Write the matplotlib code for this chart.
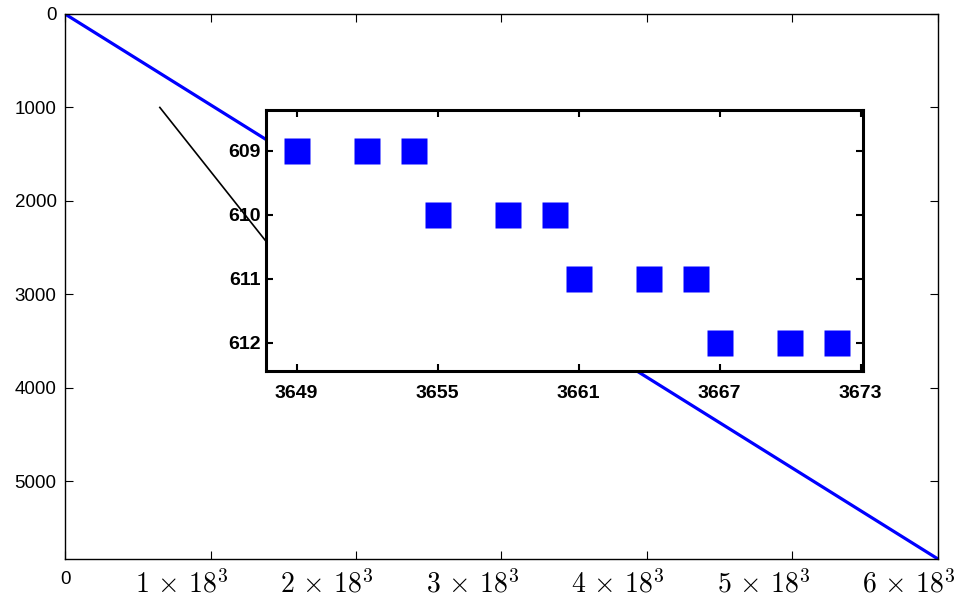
import numpy as np
import matplotlib.pyplot as plt
import matplotlib.transforms as mtransforms

plt.rcParams['font.family'] = ['Liberation Sans', 'DejaVu Sans']
plt.rcParams['mathtext.fontset'] = 'cm'

# matrix size: 18^3 rows, 6*18^3 columns
n = 18 ** 3
n_rows = n
n_cols = 6 * n

# nonzero band of the whole matrix (drawn as a line from corner to corner)
band_cols = [0, n_cols]
band_rows = [0, n_rows]

# zoomed piece: rows 609-612
zoom_rows = [609, 609, 609, 610, 610, 610, 611, 611, 611, 612, 612, 612]
zoom_cols = [3649, 3652, 3654, 3655, 3658, 3660, 3661, 3664, 3666, 3667, 3670, 3672]
zoom_xticks = [3649, 3655, 3661, 3667, 3673]
zoom_yticks = [609, 610, 611, 612]

# main axis ticks
y_ticks = [0, 1000, 2000, 3000, 4000, 5000]
x_tick_mult = [0, 1, 2, 3, 4, 5, 6]
x_tick_labels = ['0'] + [r'$%d\,\times\,18^3$' % k for k in x_tick_mult[1:]]

# pointer line toward the inset (data coords of main axes)
pointer_x = [3800, 8020]
pointer_y = [1000, 2420]

fig = plt.figure(figsize=(9.62, 6.03), dpi=100)
ax = fig.add_axes([0.0676, 0.073, 0.9074, 0.9038])
ax.plot(band_cols, band_rows, color='#0000ff', lw=2.3, solid_capstyle='butt')
ax.plot(pointer_x, pointer_y, color='black', lw=1.2)
ax.set_xlim(0, n_cols)
ax.set_ylim(n_rows, 0)
ax.set_yticks(y_ticks)
ax.set_yticklabels([str(v) for v in y_ticks], fontsize=13.5)
ax.set_xticks([k * n for k in x_tick_mult])
ax.set_xticklabels(x_tick_labels)
ax.tick_params(direction='in', length=6, width=0.8, top=True, right=True, pad=6)
ax.tick_params(axis='x', pad=9)
shift = mtransforms.ScaledTranslation(-29 / 100, 2 / 100, fig.dpi_scale_trans)
for i, lab in enumerate(ax.get_xticklabels()):
    if i == 0:
        lab.set_fontsize(13.5)
    else:
        lab.set_fontsize(20)
        lab.set_transform(lab.get_transform() + shift)
for s in ax.spines.values():
    s.set_linewidth(1.0)

ins = fig.add_axes([0.2765, 0.384, 0.6206, 0.4336])
ins.set_facecolor('white')
ins.plot(zoom_cols, zoom_rows, 's', color='#0000ff', ms=19, mec='none')
ins.set_xlim(3647.7, 3673.1)
ins.set_ylim(612.45, 608.36)
ins.set_xticks(zoom_xticks)
ins.set_yticks(zoom_yticks)
ins.set_xticklabels([str(v) for v in zoom_xticks], fontsize=14, fontweight='bold')
ins.set_yticklabels([str(v) for v in zoom_yticks], fontsize=14, fontweight='bold')
ins.tick_params(direction='in', length=5, width=1.5, top=True, right=True, pad=4)
ins.tick_params(axis='x', pad=10)
for s in ins.spines.values():
    s.set_linewidth(2.2)

fig.savefig('out.png', dpi=100)
